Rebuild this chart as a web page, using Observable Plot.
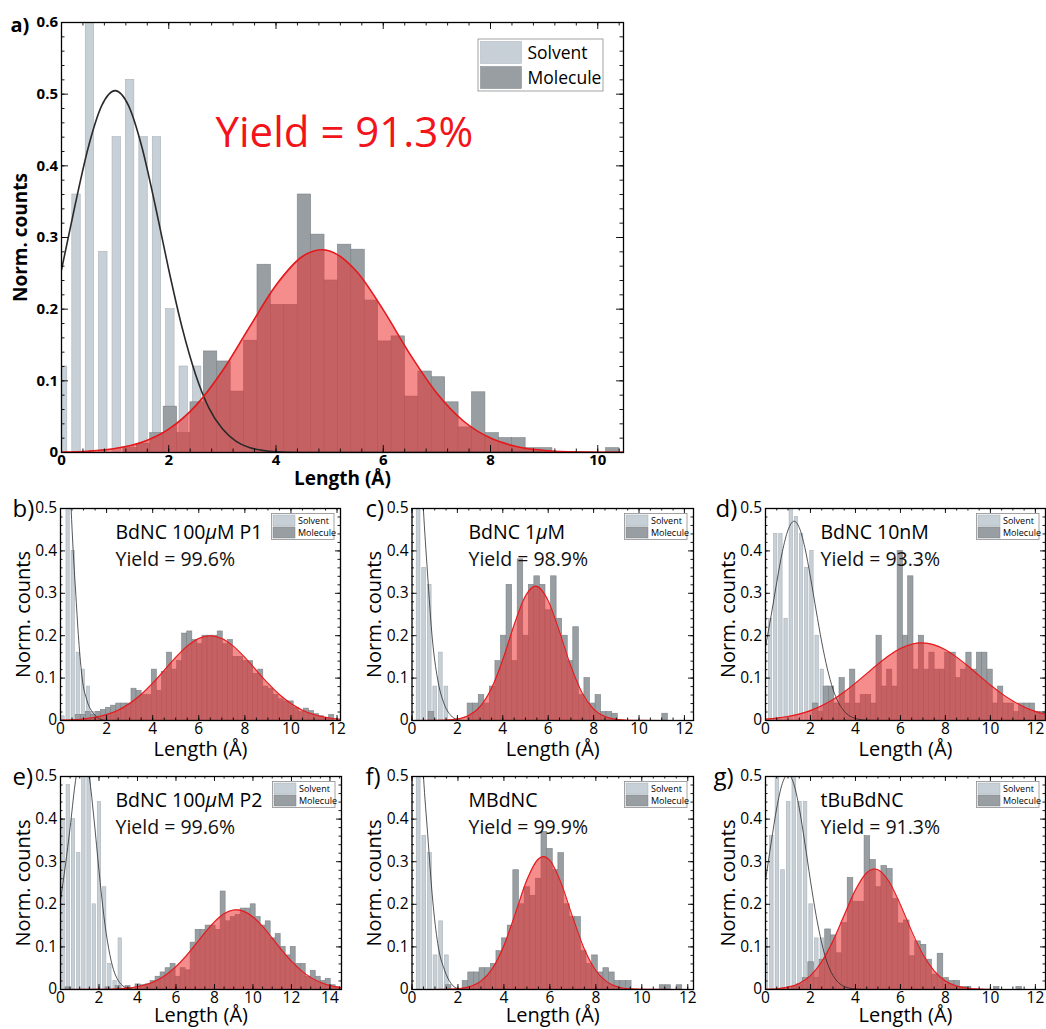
<!DOCTYPE html>
<html><head><meta charset="utf-8">
<script src="https://cdn.jsdelivr.net/npm/d3@7"></script>
<script src="https://cdn.jsdelivr.net/npm/@observablehq/plot@0.6"></script>
<style>
body{margin:0;background:#fff;}
#fig{position:relative;width:1046px;height:1029px;overflow:hidden;background:#fff;}
#fig svg{position:absolute;}
</style></head><body><div id="fig"></div>
<script>
// ---------- data ----------
// panel a / g (tBuBdNC)
const binStartA = -0.095, binWidthA = 0.25;
const solventA = [0.12,0.36,0.62,0.28,0.44,0.52,0.44,0.44,0.20,0.12,0.12];
const moleculeA = [0,0,0,0,0,0.006,0.012,0.027,0.064,0.027,0.07,0.141,0.127,0.085,0.156,0.262,0.206,0.206,0.36,0.304,0.24,0.29,0.283,0.212,0.155,0.162,0.078,0.113,0.105,0.07,0.035,0.084,0.027,0.02,0.02,0.006,0.006,0,0,0,0,0.006,0,0,0,0.006];
const fitSolventA = [[0,0.255],[0.25,0.344],[0.5,0.426],[0.75,0.484],[1,0.505],[1.25,0.484],[1.5,0.426],[1.75,0.344],[2,0.255],[2.25,0.174],[2.5,0.109],[2.75,0.062],[3,0.033],[3.25,0.016],[3.5,0.007],[3.75,0.003],[4,0.001],[4.5,0],[12.5,0]];
const fitMoleculeA = [[0,0.0005],[0.5,0.0018],[1,0.0055],[1.5,0.0142],[2,0.0325],[2.5,0.065],[3,0.1137],[3.5,0.1742],[4,0.2334],[4.5,0.2739],[4.85,0.283],[5,0.2813],[5.5,0.2529],[6,0.199],[6.5,0.137],[7,0.0826],[7.5,0.0436],[8,0.0201],[8.5,0.0081],[9,0.0029],[9.5,0.0009],[10,0.0002],[10.5,0.0001],[12.5,0]];

// panel b (BdNC 100uM P1)
const binWidthB = 0.22;
const solventB = [0.01,0.55,0.4,0.16,0.12,0.08,0.02,0.02];
const moleculeB = [0,0,0,0.013,0.013,0.02,0.013,0.02,0.025,0.03,0.035,0.04,0.04,0.04,0.075,0.07,0.06,0.06,0.12,0.07,0.115,0.16,0.12,0.14,0.205,0.21,0.19,0.18,0.2,0.2,0.2,0.21,0.18,0.19,0.15,0.15,0.14,0.14,0.11,0.12,0.08,0.075,0.06,0.05,0.045,0.045,0.03,0.02,0.028,0.022,0.015,0.01,0.005,0.013,0];
const fitSolventB = [[0,1.2],[0.2,0.85],[0.35,0.64],[0.46,0.5],[0.55,0.4],[0.65,0.31],[0.79,0.19],[0.94,0.1],[1.15,0.047],[1.44,0.016],[1.73,0.003],[2,0],[12.15,0]];
const fitMoleculeB = [[0,0.0008],[0.5,0.0018],[1,0.0037],[1.5,0.0075],[2,0.014],[2.5,0.0244],[3,0.04],[3.5,0.0613],[4,0.0879],[4.5,0.1182],[5,0.1488],[5.5,0.1754],[6,0.1935],[6.5,0.2],[7,0.1935],[7.5,0.1754],[8,0.1488],[8.5,0.1182],[9,0.0879],[9.5,0.0613],[10,0.04],[10.5,0.0244],[11,0.014],[11.5,0.0075],[12,0.0037],[12.15,0.003]];

// panel c (BdNC 1uM)
const binStartSolventC = 0.1675, binWidthC = 0.245;
const solventC = [0.55,0.36,0.32,0.08,0.16,0.08];
const moleculeC = [0,0,0,0.02,0,0,0,0,0,0,0.04,0.04,0.06,0.04,0.08,0.14,0.2,0.32,0.14,0.38,0.2,0.32,0.34,0.32,0.26,0.34,0.24,0.2,0.14,0.22,0.06,0.1,0.04,0.06,0.02,0.02,0.016,0,0,0,0,0,0,0,0,0.016,0,0,0,0,0];
const fitSolventC = [[0,1.2],[0.25,0.8],[0.4,0.6],[0.5,0.5],[0.68,0.35],[0.9,0.19],[1.12,0.1],[1.41,0.04],[1.71,0.012],[2,0.002],[2.3,0],[12.4,0]];
const fitMoleculeC = [[0,0],[1,0.0002],[1.5,0.0009],[2,0.0035],[2.5,0.0118],[3,0.0328],[3.5,0.0753],[4,0.1432],[4.5,0.2254],[5,0.2936],[5.45,0.317],[6,0.2827],[6.5,0.209],[7,0.1278],[7.5,0.0647],[8,0.0271],[8.5,0.0094],[9,0.0027],[9.5,0.0007],[10,0.0002],[12.4,0]];

// panel d (BdNC 10nM)
const binStartSolventD = 0.11, binWidthSolventD = 0.23, binWidthD = 0.235;
const solventD = [0.24,0.44,0.44,0.24,0.52,0.48,0.44,0.36,0.4,0.2,0.12,0.08,0.04,0.04,0.02];
const moleculeD = [0,0,0,0,0,0,0,0,0,0.04,0.02,0.08,0.08,0.04,0.1,0.04,0.12,0.04,0.06,0.06,0.04,0.2,0.08,0.12,0.08,0.4,0.2,0.34,0.12,0.2,0.12,0.16,0.12,0.12,0.16,0.16,0.1,0.12,0.16,0.12,0.16,0.16,0.12,0.04,0.08,0.04,0.04,0.02,0.04,0.04,0.04,0.02,0.02];
const fitSolventD = [[0,0.174],[0.25,0.247],[0.5,0.326],[0.75,0.398],[1,0.449],[1.27,0.47],[1.5,0.455],[1.75,0.408],[2,0.338],[2.25,0.26],[2.5,0.185],[2.75,0.122],[3,0.074],[3.25,0.042],[3.5,0.022],[3.75,0.0105],[4,0.0047],[4.5,0.0007],[5,0],[12.5,0]];
const fitMoleculeD = [[0,0.0032],[0.5,0.0055],[1,0.0093],[1.5,0.0151],[2,0.0233],[2.5,0.0347],[3,0.0493],[3.5,0.0673],[4,0.0881],[4.5,0.1105],[5,0.133],[5.5,0.1534],[6,0.1696],[6.5,0.18],[6.95,0.183],[7.5,0.1784],[8,0.1668],[8.5,0.1495],[9,0.1285],[9.5,0.106],[10,0.0837],[10.5,0.0635],[11,0.0461],[11.5,0.0321],[12,0.0215],[12.5,0.0138]];

// panel e (BdNC 100uM P2)
const binWidthSolventE = 0.27, binWidthE = 0.26;
const solventE = [0.4,0.48,0.4,0.32,0.52,0.5,0.2,0.44,0.24,0.06,0.02,0.12];
const moleculeE = [0,0.005,0,0,0,0,0,0,0,0.005,0,0.008,0,0.008,0,0.012,0.01,0.012,0.02,0.03,0.04,0.05,0.06,0.03,0.05,0.045,0.11,0.14,0.14,0.15,0.15,0.14,0.23,0.16,0.17,0.175,0.19,0.19,0.2,0.17,0.15,0.16,0.12,0.13,0.1,0.08,0.1,0.06,0.06,0.03,0.044,0.03,0.02,0.025,0.01,0.005];
const fitSolventE = [[0,0.21],[0.25,0.29],[0.5,0.38],[0.75,0.48],[1,0.548],[1.15,0.56],[1.25,0.554],[1.5,0.498],[1.75,0.396],[2,0.279],[2.25,0.174],[2.5,0.097],[2.75,0.047],[3,0.021],[3.25,0.008],[3.5,0.003],[4,0],[14.6,0]];
const fitMoleculeE = [[0,0],[2,0.0003],[3,0.0016],[3.5,0.0033],[4,0.0066],[4.5,0.0123],[5,0.0214],[5.5,0.035],[6,0.0537],[6.5,0.0774],[7,0.1047],[7.5,0.133],[8,0.1586],[8.5,0.1776],[9,0.1865],[9.14,0.187],[9.5,0.184],[10,0.1703],[10.5,0.148],[11,0.1207],[11.5,0.0924],[12,0.0664],[12.5,0.0448],[13,0.0284],[13.5,0.0169],[14,0.0094],[14.6,0.0043]];

// panel f (MBdNC)
const binStartSolventF = 0.1675, binWidthF = 0.245;
const solventF = [0.55,0.36,0.32,0.08,0.16,0.08];
const moleculeF = [0,0,0,0,0,0,0.01,0,0,0.02,0.04,0.04,0.05,0.05,0.06,0.09,0.12,0.15,0.28,0.2,0.24,0.22,0.26,0.37,0.33,0.28,0.32,0.2,0.17,0.17,0.09,0.06,0.08,0.04,0.05,0.04,0.02,0.02,0.02,0,0,0,0,0,0.01,0.01,0,0.01,0,0];
const fitSolventF = [[0,1.2],[0.25,0.8],[0.4,0.6],[0.5,0.5],[0.68,0.366],[0.9,0.21],[1.12,0.108],[1.42,0.045],[1.7,0.014],[2,0.002],[2.3,0],[12.25,0]];
const fitMoleculeF = [[0,0],[1,0.0001],[1.5,0.0004],[2,0.0017],[2.5,0.0064],[3,0.0195],[3.5,0.0492],[4,0.1029],[4.5,0.1786],[5,0.2569],[5.5,0.3064],[5.72,0.312],[6,0.303],[6.5,0.2484],[7,0.1689],[7.5,0.0952],[8,0.0445],[8.5,0.0172],[9,0.0055],[9.5,0.0015],[10,0.0003],[12.25,0]];

// labels
const panelLetters = ["a)","b)","c)","d)","e)","f)","g)"];
const sampleNames = ["", "BdNC 100\u03bcM P1", "BdNC 1\u03bcM", "BdNC 10nM", "BdNC 100\u03bcM P2", "MBdNC", "tBuBdNC"];
const yieldTexts = ["Yield = 91.3%", "Yield = 99.6%", "Yield = 98.9%", "Yield = 93.3%", "Yield = 99.6%", "Yield = 99.9%", "Yield = 91.3%"];
const legendLabels = ["Solvent", "Molecule"];
const xTicksA = [0,2,4,6,8,10];
const xTicksSmall = [0,2,4,6,8,10,12];
const xTicksE = [0,2,4,6,8,10,12,14];
const yTicksA = [0,0.1,0.2,0.3,0.4,0.5,0.6];
const yTicksSmall = [0,0.1,0.2,0.3,0.4,0.5];

// ---------- styles ----------
const FONT = "'Open Sans', 'DejaVu Sans', sans-serif";
const SOLV = "#c8d0d7", SOLV_EDGE = "#a9b1b7";
const MOL = "#989ea2", MOL_EDGE = "#7b8185";
const RED_FILL = "#ec2f2f", RED_LINE = "#e5191c";

function bins(x0, w, values) {
  return values.map((v, i) => ({x1: x0 + i * w, x2: x0 + (i + 1) * w, y: v})).filter(d => d.y > 0);
}
function pts(arr) { return arr.map(([x, y]) => ({x, y})); }

function panel(o) {
  const pw = o.width - o.ml - o.mr, ph = o.height - o.mt - o.mb;
  const xMinor = d3.range(0, o.xDomain[1] + 1e-9, o.xMinorStep);
  const yMinor = d3.range(0, o.yDomain[1] + 1e-9, o.yMinorStep);
  const xMajor = o.xTicks, yMajor = o.yTicks;
  const tk = {stroke: "#000", strokeWidth: 0.9};
  const marks = [
    Plot.rect(o.solvent, {x1: "x1", x2: "x2", y1: 0, y2: "y", fill: SOLV, stroke: SOLV_EDGE, strokeWidth: 0.6, insetLeft: o.sInset, insetRight: o.sInset, clip: true}),
    Plot.rect(o.molecule, {x1: "x1", x2: "x2", y1: 0, y2: "y", fill: MOL, stroke: MOL_EDGE, strokeWidth: 0.6, clip: true}),
    Plot.areaY(o.fitMol, {x: "x", y: "y", fill: RED_FILL, fillOpacity: 0.55, curve: "monotone-x", clip: true}),
    Plot.line(o.fitSol, {x: "x", y: "y", stroke: "#2a2a2a", strokeWidth: o.lwBlack, curve: "monotone-x", clip: true}),
    Plot.line(o.fitMol, {x: "x", y: "y", stroke: RED_LINE, strokeWidth: o.lwRed, curve: "monotone-x", clip: true}),
    // inward ticks on all four sides
    Plot.tickX(xMinor, {x: d => d, insetTop: ph - o.tMin, ...tk}),
    Plot.tickX(xMinor, {x: d => d, insetBottom: ph - o.tMin, ...tk}),
    Plot.tickX(xMajor, {x: d => d, insetTop: ph - o.tMaj, ...tk}),
    Plot.tickX(xMajor, {x: d => d, insetBottom: ph - o.tMaj, ...tk}),
    Plot.tickY(yMinor, {y: d => d, insetRight: pw - o.tMin, ...tk}),
    Plot.tickY(yMinor, {y: d => d, insetLeft: pw - o.tMin, ...tk}),
    Plot.tickY(yMajor, {y: d => d, insetRight: pw - o.tMaj, ...tk}),
    Plot.tickY(yMajor, {y: d => d, insetLeft: pw - o.tMaj, ...tk}),
    Plot.frame({stroke: "#000", strokeWidth: 1.3}),
    Plot.axisX({ticks: xMajor, tickSize: 0, tickPadding: 2, tickFormat: d => String(d), label: null, fontSize: o.tickFont, fontWeight: o.weight}),
    Plot.axisY({ticks: yMajor, tickSize: 0, tickPadding: 3.5, tickFormat: d => String(d), label: null, fontSize: o.tickFont, fontWeight: o.weight}),
    Plot.text(["Length (\u00c5)"], {frameAnchor: "bottom", dy: o.xLabelDy, lineAnchor: "middle", textAnchor: "middle", text: d => d, fontSize: o.labelFont, fontWeight: o.weight, fill: "#000"}),
    Plot.text(["Norm. counts"], {frameAnchor: "left", dx: o.yLabelDx, rotate: -90, lineAnchor: "middle", textAnchor: "middle", text: d => d, fontSize: o.labelFont, fontWeight: o.weight, fill: "#000"}),
    Plot.text([o.letter], {frameAnchor: "top-left", dx: o.letterDx, dy: o.letterDy, textAnchor: "start", lineAnchor: "middle", text: d => d, fontSize: o.letterFont, fontWeight: o.weight, fill: "#000"})
  ];
  if (o.name) marks.push(Plot.text([o.name], {frameAnchor: "top-left", dx: o.annDx, dy: o.nameDy, textAnchor: "start", lineAnchor: "bottom", text: d => d, fontSize: o.annFont, fill: "#000"}));
  marks.push(Plot.text([o.yieldText], {frameAnchor: "top-left", dx: o.annDx, dy: o.yieldDy, textAnchor: "start", lineAnchor: "bottom", text: d => d, fontSize: o.annFont, fill: o.yieldColor}));
  const svg = Plot.plot({
    width: o.width, height: o.height,
    marginLeft: o.ml, marginRight: o.mr, marginTop: o.mt, marginBottom: o.mb,
    x: {domain: o.xDomain},
    y: {domain: o.yDomain},
    style: {background: "none", overflow: "visible", fontFamily: FONT, color: "#000"},
    marks
  });
  svg.style.left = o.left + "px";
  svg.style.top = o.top + "px";
  // italic mu as in the original typesetting
  d3.select(svg).selectAll("text").each(function() {
    const t = this.textContent;
    if (t.includes("\u03bc") && this.children.length === 0) {
      const parts = t.split("\u03bc");
      this.textContent = "";
      const sel = d3.select(this);
      parts.forEach((p, i) => {
        if (i > 0) sel.append("tspan").attr("font-style", "italic").text("\u03bc");
        sel.append("tspan").text(p);
      });
    }
  });
  // legend
  const L = o.legend;
  const g = d3.select(svg).append("g").attr("text-anchor", "start");
  const lx = o.width - o.mr - L.right - L.w, ly = o.mt + L.top;
  g.append("rect").attr("x", lx).attr("y", ly).attr("width", L.w).attr("height", L.h).attr("fill", "#fff").attr("stroke", "#8c8c8c").attr("stroke-width", 0.8);
  [SOLV, MOL].forEach((c, i) => {
    g.append("rect").attr("x", lx + L.pad).attr("y", ly + L.pad + i * (L.sh + L.gap)).attr("width", L.sw).attr("height", L.sh).attr("fill", c).attr("stroke", i ? MOL_EDGE : SOLV_EDGE).attr("stroke-width", 0.5);
    g.append("text").attr("x", lx + L.pad + L.sw + L.tgap).attr("y", ly + L.pad + i * (L.sh + L.gap) + L.sh / 2).attr("dy", "0.35em").attr("text-anchor", "start").attr("font-size", L.fs).attr("font-family", FONT).attr("fill", "#000").text(legendLabels[i]);
  });
  document.getElementById("fig").appendChild(svg);
}

const bigLegend = {right: 20, top: 17, w: 125, h: 52, pad: 2.5, sw: 41, sh: 22, gap: 3, tgap: 6, fs: 17.5};
const smallLegend = {right: 6, top: 5.5, w: 62.5, h: 26, pad: 1.5, sw: 22, sh: 11, gap: 1, tgap: 3, fs: 9};
const smallCommon = {
  yDomain: [0, 0.5], yTicks: yTicksSmall, xMinorStep: 0.5, yMinorStep: 0.02,
  tMaj: 5, tMin: 2.5, tickFont: 15.5, labelFont: 20, letterFont: 24, annFont: 19.5, weight: "normal",
  yLabelDx: -37, lwBlack: 0.8, lwRed: 1.1, nameDy: 30, yieldDy: 57, letterDy: 1, annDx: 55,
  yieldColor: "#111", legend: smallLegend, sInset: 0.9
};

// panel a
panel({
  left: 0, top: 0, width: 640, height: 495, ml: 61, mr: 17, mt: 22, mb: 43,
  xDomain: [0, 10.48], yDomain: [0, 0.6], xTicks: xTicksA, yTicks: yTicksA, xMinorStep: 0.4, yMinorStep: 0.02,
  tMaj: 7, tMin: 3.5, tickFont: 15, labelFont: 19, letterFont: 20, annFont: 42, weight: "bold",
  xLabelDy: 26.5, yLabelDx: -41, lwBlack: 1.6, lwRed: 1.6,
  letter: panelLetters[0], letterDx: -51, letterDy: 3,
  name: sampleNames[0], yieldText: yieldTexts[0], annDx: 154, nameDy: 0, yieldDy: 124, yieldColor: "#f2141a",
  solvent: bins(binStartA, binWidthA, solventA), molecule: bins(binStartA, binWidthA, moleculeA),
  fitSol: pts(fitSolventA), fitMol: pts(fitMoleculeA), legend: bigLegend, sInset: 2.5
});
// panel b
panel({...smallCommon,
  left: 0, top: 490, width: 350, height: 265, ml: 60, mr: 10, mt: 18, mb: 35, xLabelDy: 29,
  xDomain: [0, 12.15], xTicks: xTicksSmall, letter: panelLetters[1], letterDx: -48,
  name: sampleNames[1], yieldText: yieldTexts[1],
  solvent: bins(0, binWidthB, solventB), molecule: bins(0, binWidthB, moleculeB),
  fitSol: pts(fitSolventB), fitMol: pts(fitMoleculeB)
});
// panel c
panel({...smallCommon,
  left: 350, top: 490, width: 350, height: 265, ml: 61.5, mr: 7, mt: 18, mb: 35, xLabelDy: 29,
  xDomain: [0, 12.4], xTicks: xTicksSmall, letter: panelLetters[2], letterDx: -46.5, annDx: 56.5,
  name: sampleNames[2], yieldText: yieldTexts[2],
  solvent: bins(binStartSolventC, binWidthC, solventC), molecule: bins(0, binWidthC, moleculeC),
  fitSol: pts(fitSolventC), fitMol: pts(fitMoleculeC)
});
// panel d
panel({...smallCommon,
  left: 700, top: 490, width: 346, height: 265, ml: 65, mr: 1, mt: 18, mb: 35, xLabelDy: 29,
  xDomain: [0, 12.45], xTicks: xTicksSmall, letter: panelLetters[3], letterDx: -50,
  name: sampleNames[3], yieldText: yieldTexts[3],
  solvent: bins(binStartSolventD, binWidthSolventD, solventD), molecule: bins(0, binWidthD, moleculeD),
  fitSol: pts(fitSolventD), fitMol: pts(fitMoleculeD)
});
// panel e
panel({...smallCommon,
  left: 0, top: 758, width: 350, height: 271, ml: 60, mr: 9, mt: 18, mb: 40, xLabelDy: 26.5,
  xDomain: [0, 14.6], xTicks: xTicksE, letter: panelLetters[4], letterDx: -48,
  name: sampleNames[4], yieldText: yieldTexts[4],
  solvent: bins(0, binWidthSolventE, solventE), molecule: bins(0, binWidthE, moleculeE),
  fitSol: pts(fitSolventE), fitMol: pts(fitMoleculeE)
});
// panel f
panel({...smallCommon,
  left: 350, top: 758, width: 350, height: 271, ml: 61.5, mr: 7, mt: 18, mb: 40, xLabelDy: 26.5,
  xDomain: [0, 12.25], xTicks: xTicksSmall, letter: panelLetters[5], letterDx: -46.5, annDx: 56.5,
  name: sampleNames[5], yieldText: yieldTexts[5],
  solvent: bins(binStartSolventF, binWidthF, solventF), molecule: bins(0, binWidthF, moleculeF),
  fitSol: pts(fitSolventF), fitMol: pts(fitMoleculeF)
});
// panel g (same data as a)
panel({...smallCommon,
  left: 700, top: 758, width: 346, height: 271, ml: 65, mr: 1, mt: 18, mb: 40, xLabelDy: 26.5,
  xDomain: [0, 12.45], xTicks: xTicksSmall, letter: panelLetters[6], letterDx: -52, sInset: 1,
  name: sampleNames[6], yieldText: yieldTexts[6],
  solvent: bins(binStartA, binWidthA, solventA), molecule: bins(binStartA, binWidthA, moleculeA),
  fitSol: pts(fitSolventA), fitMol: pts(fitMoleculeA)
});
</script></body></html>
